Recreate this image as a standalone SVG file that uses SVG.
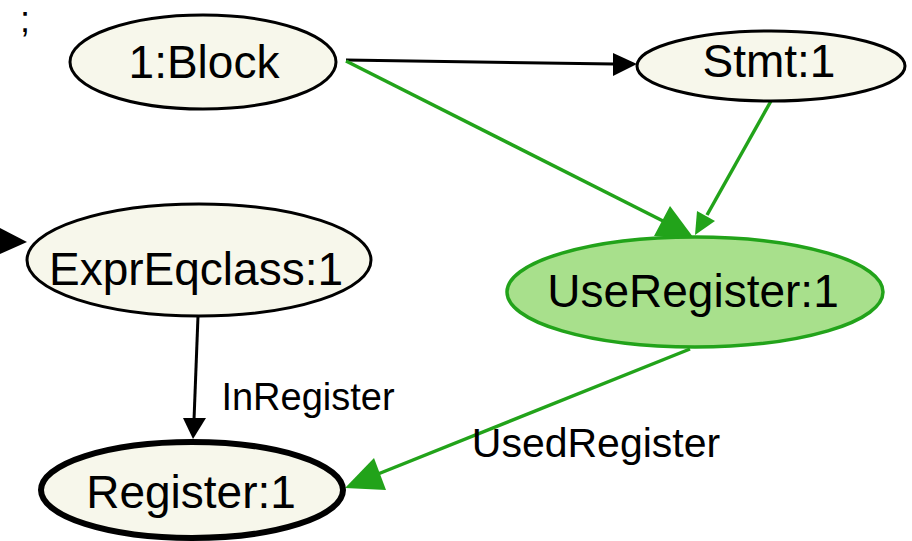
<svg xmlns="http://www.w3.org/2000/svg" width="912" height="541" viewBox="0 0 912 541">
<style>
.node{fill:#f7f7eb;stroke:#000;stroke-width:3}
.lbl{font-family:"Liberation Sans",Arial,sans-serif;fill:#000;text-anchor:middle}
.blk{stroke:#000;stroke-width:3;fill:none}
.grn{stroke:#22a31a;stroke-width:3.5;fill:none}
.ahb{fill:#000}
.ahg{fill:#22a31a}
</style>
<rect width="912" height="541" fill="#fff"/>
<text x="20" y="32" font-family="Liberation Sans, Arial, sans-serif" font-size="36">;</text>
<g id="edges">
<polygon class="ahb" points="0,228 27,242 0,254"/>
<line class="blk" x1="346" y1="60" x2="614" y2="64"/>
<polygon class="ahb" points="637,64 613,53 613,76"/>
<line class="grn" x1="346" y1="61" x2="665" y2="222"/>
<polygon class="ahg" points="693,237 654,236 670,206"/>
<line class="grn" x1="771" y1="101" x2="707" y2="215"/>
<polygon class="ahg" points="695,235 715,221 697,211"/>
<line class="blk" x1="198" y1="316" x2="194" y2="420"/>
<polygon class="ahb" points="193,439 183,418 206,418"/>
<text class="lbl" x="308" y="410" font-size="38">InRegister</text>
<line class="grn" x1="690" y1="349" x2="378" y2="474"/>
<polygon class="ahg" points="345,488 386,490 374,458"/>
<text class="lbl" x="596" y="457" font-size="41">UsedRegister</text>
</g>
<g id="block">
<ellipse class="node" cx="203" cy="62" rx="133" ry="47"/>
<text class="lbl" x="204" y="78" font-size="46">1:Block</text>
</g>
<g id="stmt">
<ellipse class="node" cx="771" cy="66" rx="134" ry="35"/>
<text class="lbl" x="769" y="77" font-size="46">Stmt:1</text>
</g>
<g id="exprEqclass">
<ellipse class="node" cx="199" cy="260" rx="172" ry="56"/>
<text class="lbl" x="196" y="285" font-size="46">ExprEqclass:1</text>
</g>
<g id="useRegister">
<ellipse cx="695" cy="292" rx="188" ry="55" fill="#a8e08c" stroke="#22a31a" stroke-width="3.5"/>
<text class="lbl" x="693" y="307" font-size="46">UseRegister:1</text>
</g>
<g id="register">
<ellipse cx="192" cy="490" rx="151" ry="48" fill="#f7f7eb" stroke="#000" stroke-width="6"/>
<text class="lbl" x="191" y="508" font-size="46">Register:1</text>
</g>
</svg>
